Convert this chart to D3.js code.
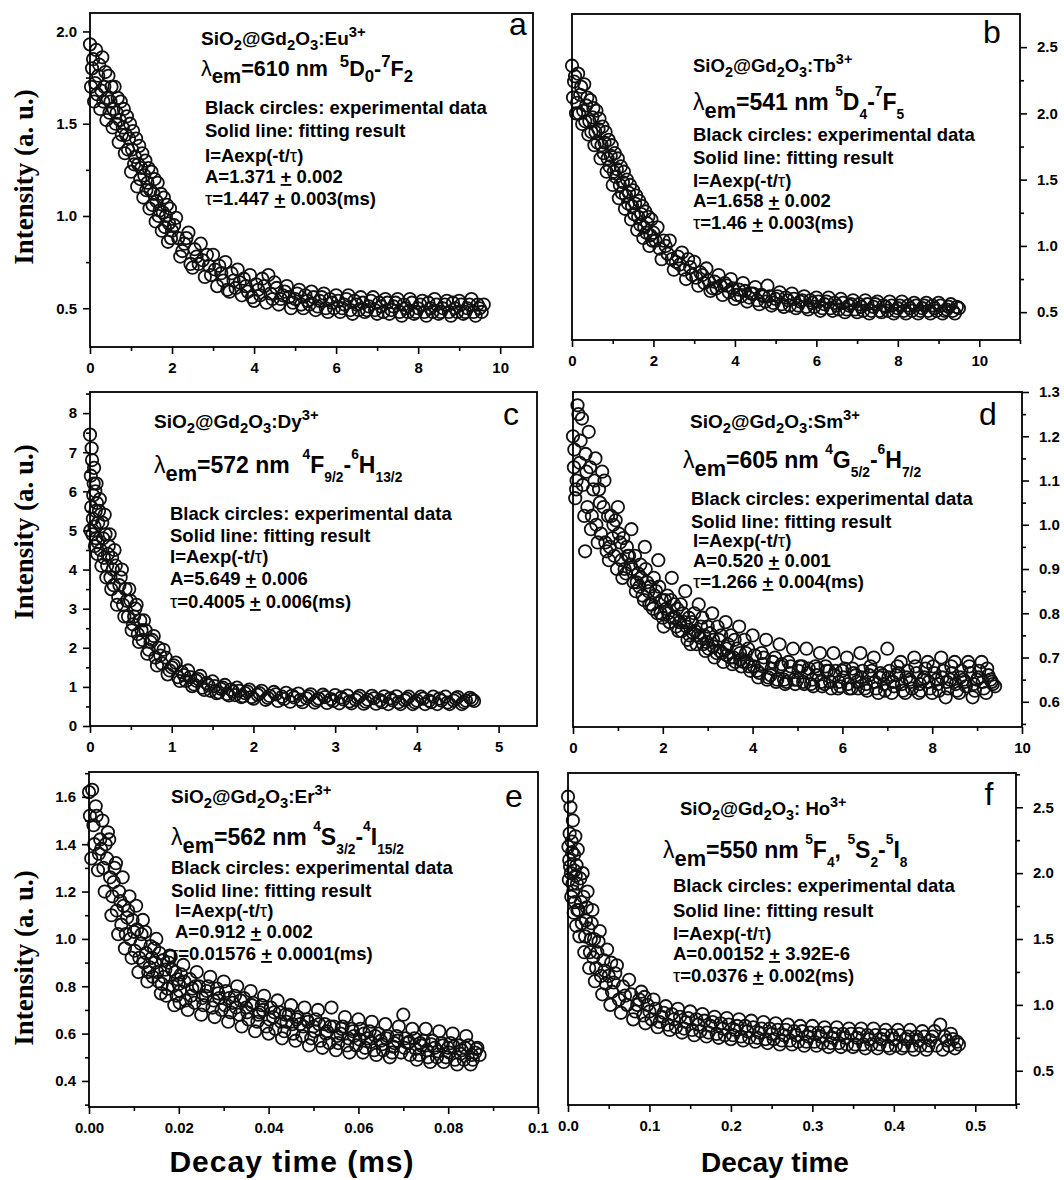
<!DOCTYPE html>
<html>
<head>
<meta charset="utf-8">
<script src="https://cdn.jsdelivr.net/npm/d3@7"></script>
<style>
  body { margin: 0; background: #fff; }
</style>
</head>
<body>
<div id="chart"></div>
<script>
// ---- data: [decay time, intensity] ----
const ptsA = [[0,1.93],[0.05,1.80],[0.1,1.62],[0.15,1.90],[0.2,1.76],[0.25,1.58],[0.3,1.86],[0.35,1.70],[0.4,1.52],[0.45,1.76],[0.5,1.62],[0.55,1.48],[0.6,1.70],[0.65,1.56],[0.7,1.40],[0.75,1.62],[0.8,1.48],[0.85,1.34],[0.9,1.54],[0.95,1.42],[1.0,1.24],[1.05,1.46],[1.1,1.32],[1.15,1.16],[1.2,1.38],[1.25,1.26],[1.3,1.10],[1.35,1.30],[1.4,1.18],[1.45,1.04],[1.5,1.24],[1.55,1.12],[1.6,0.97],[1.65,1.18],[1.7,1.03],[1.75,0.92],[1.8,1.10],[1.85,1.00],[1.9,0.86],[1.95,1.04],[2.0,0.92],[2.1,0.99],[2.15,0.88],[2.2,0.78],[2.3,0.85],[2.4,0.91],[2.45,0.74],[2.5,0.72],[2.6,0.78],[2.7,0.85],[2.75,0.76],[2.8,0.67],[2.9,0.73],[3.0,0.79],[3.05,0.71],[3.1,0.62],[3.2,0.69],[3.3,0.75],[3.35,0.60],[3.4,0.59],[3.5,0.65],[3.6,0.71],[3.65,0.64],[3.7,0.57],[3.8,0.62],[3.9,0.68],[3.95,0.56],[4.0,0.54],[4.1,0.60],[4.2,0.66],[4.3,0.53],[4.35,0.68],[4.4,0.58],[4.5,0.64],[4.6,0.52],[4.7,0.57],[4.8,0.62],[4.85,0.56],[4.9,0.50],[5.0,0.55],[5.1,0.60],[5.2,0.50],[5.3,0.54],[5.4,0.59],[5.5,0.49],[5.6,0.54],[5.7,0.58],[5.8,0.48],[5.9,0.53],[6.0,0.57],[6.1,0.48],[6.2,0.52],[6.3,0.57],[6.4,0.47],[6.5,0.52],[6.6,0.56],[6.7,0.48],[6.8,0.51],[6.9,0.56],[7.0,0.47],[7.1,0.51],[7.2,0.55],[7.3,0.47],[7.4,0.51],[7.5,0.55],[7.6,0.46],[7.7,0.50],[7.8,0.55],[7.9,0.47],[8.0,0.50],[8.1,0.54],[8.2,0.46],[8.3,0.50],[8.4,0.55],[8.5,0.47],[8.6,0.50],[8.7,0.54],[8.8,0.46],[8.9,0.50],[9.0,0.54],[9.1,0.47],[9.2,0.50],[9.3,0.55],[9.4,0.46],[9.5,0.50],[9.6,0.52]];
const ptsA2 = [[0.025,1.70],[0.075,1.85],[0.125,1.72],[0.175,1.66],[0.225,1.82],[0.275,1.68],[0.325,1.62],[0.375,1.78],[0.425,1.64],[0.475,1.56],[0.525,1.70],[0.575,1.58],[0.625,1.50],[0.675,1.64],[0.725,1.52],[0.775,1.44],[0.825,1.58],[0.875,1.44],[0.925,1.36],[0.975,1.50],[1.025,1.36],[1.075,1.28],[1.125,1.42],[1.175,1.28],[1.225,1.20],[1.275,1.34],[1.325,1.22],[1.375,1.14],[1.425,1.26],[1.475,1.14],[1.525,1.06],[1.575,1.20],[1.625,1.08],[1.675,1.00],[1.725,1.12],[1.775,1.02],[1.825,0.94],[1.875,1.06],[1.925,0.96],[1.975,0.88],[2.05,0.95],[2.25,0.81],[2.35,0.88],[2.55,0.82],[2.65,0.74],[2.85,0.79],[2.95,0.68],[3.15,0.73],[3.25,0.65],[3.45,0.69],[3.55,0.61],[3.75,0.66],[3.85,0.59],[4.05,0.63],[4.15,0.57],[4.25,0.62],[4.45,0.55],[4.55,0.61],[4.65,0.55],[4.75,0.59],[4.95,0.53],[5.05,0.58],[5.15,0.52],[5.25,0.57],[5.35,0.52],[5.45,0.56],[5.55,0.51],[5.65,0.56],[5.75,0.50],[5.85,0.55],[5.95,0.50],[6.05,0.54],[6.15,0.50],[6.25,0.55],[6.35,0.49],[6.45,0.54],[6.55,0.49],[6.65,0.53],[6.75,0.49],[6.85,0.54],[6.95,0.49],[7.05,0.53],[7.15,0.48],[7.25,0.53],[7.35,0.49],[7.45,0.53],[7.55,0.48],[7.65,0.52],[7.75,0.48],[7.85,0.53],[7.95,0.48],[8.05,0.52],[8.15,0.48],[8.25,0.53],[8.35,0.48],[8.45,0.52],[8.55,0.48],[8.65,0.52],[8.75,0.48],[8.85,0.53],[8.95,0.48],[9.05,0.52],[9.15,0.48],[9.25,0.52],[9.35,0.48],[9.45,0.52],[9.55,0.48]];

const ptsB = [[0,2.36],[0.05,2.24],[0.1,2.0],[0.15,2.3],[0.2,2.14],[0.25,1.92],[0.3,2.22],[0.35,2.06],[0.4,1.84],[0.45,2.1],[0.5,1.97],[0.55,1.76],[0.6,2.02],[0.65,1.88],[0.7,1.66],[0.75,1.9],[0.8,1.78],[0.85,1.56],[0.9,1.8],[0.95,1.68],[1.0,1.46],[1.05,1.7],[1.1,1.58],[1.15,1.36],[1.2,1.6],[1.25,1.48],[1.3,1.28],[1.35,1.5],[1.4,1.40],[1.45,1.2],[1.5,1.42],[1.55,1.32],[1.6,1.12],[1.65,1.34],[1.7,1.24],[1.75,1.06],[1.8,1.26],[1.85,1.17],[1.9,1.0],[1.95,1.2],[2.0,1.10],[2.1,1.14],[2.2,0.90],[2.25,1.04],[2.3,1.0],[2.4,1.04],[2.5,0.82],[2.55,0.88],[2.6,0.92],[2.7,0.95],[2.8,0.75],[2.85,0.9],[2.9,0.84],[3.0,0.88],[3.1,0.70],[3.15,0.8],[3.2,0.78],[3.3,0.83],[3.4,0.66],[3.45,0.68],[3.5,0.73],[3.6,0.78],[3.7,0.63],[3.75,0.72],[3.8,0.70],[3.9,0.75],[4.0,0.60],[4.05,0.63],[4.1,0.67],[4.2,0.72],[4.3,0.58],[4.4,0.64],[4.5,0.69],[4.6,0.56],[4.7,0.62],[4.8,0.70],[4.9,0.55],[5.0,0.60],[5.1,0.65],[5.2,0.54],[5.3,0.59],[5.4,0.64],[5.5,0.53],[5.6,0.58],[5.7,0.62],[5.8,0.52],[5.9,0.57],[6.0,0.61],[6.1,0.51],[6.2,0.56],[6.3,0.61],[6.4,0.51],[6.5,0.55],[6.6,0.60],[6.7,0.50],[6.8,0.55],[6.9,0.59],[7.0,0.50],[7.1,0.54],[7.2,0.59],[7.3,0.49],[7.4,0.54],[7.5,0.58],[7.6,0.50],[7.7,0.54],[7.8,0.58],[7.9,0.49],[8.0,0.53],[8.1,0.58],[8.2,0.49],[8.3,0.53],[8.4,0.57],[8.5,0.49],[8.6,0.53],[8.7,0.57],[8.8,0.49],[8.9,0.53],[9.0,0.57],[9.1,0.49],[9.2,0.52],[9.3,0.56],[9.4,0.49],[9.5,0.53]];
const ptsB2 = [[0.025,2.12],[0.075,2.28],[0.125,2.08],[0.175,2.0],[0.225,2.2],[0.275,2.02],[0.325,1.94],[0.375,2.12],[0.425,1.94],[0.475,1.86],[0.525,2.04],[0.575,1.86],[0.625,1.78],[0.675,1.96],[0.725,1.76],[0.775,1.70],[0.825,1.86],[0.875,1.66],[0.925,1.60],[0.975,1.76],[1.025,1.56],[1.075,1.52],[1.125,1.66],[1.175,1.46],[1.225,1.40],[1.275,1.56],[1.325,1.38],[1.375,1.32],[1.425,1.46],[1.475,1.30],[1.525,1.24],[1.575,1.38],[1.625,1.22],[1.675,1.16],[1.725,1.30],[1.775,1.14],[1.825,1.10],[1.875,1.22],[1.925,1.08],[1.975,1.04],[2.05,1.04],[2.15,0.98],[2.35,0.94],[2.45,0.90],[2.65,0.86],[2.75,0.82],[2.95,0.78],[3.05,0.76],[3.25,0.72],[3.35,0.74],[3.55,0.68],[3.65,0.70],[3.85,0.65],[3.95,0.68],[4.15,0.62],[4.25,0.66],[4.35,0.61],[4.45,0.64],[4.55,0.59],[4.65,0.63],[4.75,0.58],[4.85,0.62],[4.95,0.57],[5.05,0.62],[5.15,0.56],[5.25,0.61],[5.35,0.55],[5.45,0.60],[5.55,0.55],[5.65,0.59],[5.75,0.54],[5.85,0.59],[5.95,0.54],[6.05,0.58],[6.15,0.53],[6.25,0.58],[6.35,0.53],[6.45,0.57],[6.55,0.52],[6.65,0.57],[6.75,0.52],[6.85,0.56],[6.95,0.52],[7.05,0.56],[7.15,0.51],[7.25,0.56],[7.35,0.51],[7.45,0.56],[7.55,0.51],[7.65,0.55],[7.75,0.51],[7.85,0.55],[7.95,0.51],[8.05,0.55],[8.15,0.51],[8.25,0.55],[8.35,0.51],[8.45,0.55],[8.55,0.51],[8.65,0.55],[8.75,0.51],[8.85,0.55],[8.95,0.51],[9.05,0.55],[9.15,0.51],[9.25,0.54],[9.35,0.51],[9.45,0.54]];

const ptsC = [[0,7.45],[0.005,5.0],[0.01,6.4],[0.02,7.1],[0.03,4.9],[0.04,5.9],[0.05,6.6],[0.06,4.6],[0.07,5.5],[0.08,6.2],[0.09,4.4],[0.10,5.2],[0.12,5.8],[0.14,4.1],[0.16,4.8],[0.18,5.4],[0.20,3.8],[0.22,4.4],[0.24,4.9],[0.26,3.5],[0.28,4.0],[0.30,4.5],[0.33,3.1],[0.36,3.6],[0.39,4.0],[0.42,2.8],[0.45,3.2],[0.48,3.5],[0.51,2.45],[0.54,2.8],[0.57,3.1],[0.60,2.15],[0.63,2.45],[0.66,2.7],[0.70,1.85],[0.74,2.15],[0.78,2.3],[0.82,1.55],[0.86,1.8],[0.90,1.95],[0.95,1.32],[1.00,1.5],[1.05,1.62],[1.10,1.15],[1.15,1.3],[1.20,1.42],[1.25,1.02],[1.30,1.16],[1.35,1.28],[1.40,0.92],[1.45,1.04],[1.50,1.14],[1.55,0.84],[1.60,0.95],[1.65,1.05],[1.70,0.78],[1.75,0.88],[1.80,0.98],[1.85,0.74],[1.90,0.84],[1.95,0.93],[2.00,0.70],[2.05,0.80],[2.10,0.90],[2.15,0.67],[2.20,0.77],[2.25,0.87],[2.30,0.64],[2.35,0.75],[2.40,0.85],[2.45,0.62],[2.50,0.73],[2.55,0.83],[2.60,0.61],[2.65,0.71],[2.70,0.81],[2.75,0.60],[2.80,0.70],[2.85,0.80],[2.90,0.59],[2.95,0.69],[3.00,0.79],[3.05,0.58],[3.10,0.68],[3.15,0.78],[3.20,0.58],[3.25,0.67],[3.30,0.77],[3.35,0.57],[3.40,0.67],[3.45,0.77],[3.50,0.57],[3.55,0.66],[3.60,0.76],[3.65,0.56],[3.70,0.66],[3.75,0.76],[3.80,0.56],[3.85,0.66],[3.90,0.75],[3.95,0.56],[4.00,0.65],[4.05,0.75],[4.10,0.56],[4.15,0.65],[4.20,0.75],[4.25,0.56],[4.30,0.65],[4.35,0.75],[4.40,0.56],[4.45,0.65],[4.50,0.74],[4.55,0.56],[4.60,0.65],[4.65,0.72],[4.70,0.64]];
const ptsC2 = [[0.015,5.6],[0.025,6.8],[0.035,5.3],[0.045,6.2],[0.055,5.1],[0.065,6.0],[0.075,4.8],[0.085,5.7],[0.095,4.7],[0.11,5.5],[0.13,4.5],[0.15,5.2],[0.17,4.3],[0.19,4.9],[0.21,4.1],[0.23,4.6],[0.25,3.8],[0.27,4.3],[0.29,3.6],[0.315,4.1],[0.345,3.3],[0.375,3.8],[0.405,3.1],[0.435,3.5],[0.465,2.8],[0.495,3.2],[0.525,2.6],[0.555,3.0],[0.585,2.35],[0.615,2.7],[0.645,2.2],[0.68,2.45],[0.72,1.95],[0.76,2.2],[0.80,1.75],[0.84,2.0],[0.88,1.6],[0.925,1.75],[0.975,1.42],[1.025,1.55],[1.075,1.25],[1.125,1.38],[1.175,1.15],[1.225,1.25],[1.275,1.06],[1.325,1.2],[1.375,0.98],[1.425,1.1],[1.475,0.9],[1.525,1.02],[1.575,0.86],[1.625,0.98],[1.675,0.82],[1.725,0.93],[1.775,0.79],[1.825,0.9],[1.875,0.76],[1.925,0.88],[1.975,0.74],[2.075,0.84],[2.175,0.72],[2.275,0.81],[2.375,0.69],[2.475,0.78],[2.575,0.67],[2.675,0.76],[2.775,0.66],[2.875,0.74],[2.975,0.64],[3.075,0.73],[3.175,0.63],[3.275,0.72],[3.375,0.62],[3.475,0.71],[3.575,0.61],[3.675,0.71],[3.775,0.61],[3.875,0.70],[3.975,0.61],[4.075,0.70],[4.175,0.61],[4.275,0.70],[4.375,0.60],[4.475,0.70],[4.575,0.61],[4.675,0.68]];

const ptsD = [[0,1.20],[0.02,1.13],[0.05,1.06],[0.07,1.08],[0.1,1.27],[0.12,1.25],[0.15,1.14],[0.2,1.24],[0.25,1.02],[0.27,0.94],[0.3,1.12],[0.35,1.21],[0.4,0.99],[0.45,1.08],[0.5,1.15],[0.55,0.96],[0.6,1.05],[0.65,1.12],[0.7,1.10],[0.75,0.94],[0.8,0.92],[0.85,1.02],[0.9,1.0],[1.0,1.04],[1.05,0.96],[1.1,0.88],[1.15,0.90],[1.2,0.95],[1.25,0.93],[1.28,0.91],[1.3,0.99],[1.35,0.87],[1.4,0.85],[1.45,0.89],[1.5,0.91],[1.55,0.84],[1.6,0.95],[1.65,0.87],[1.7,0.82],[1.75,0.82],[1.8,0.88],[1.85,0.85],[1.9,0.92],[1.95,0.80],[2.0,0.79],[2.05,0.83],[2.1,0.84],[2.15,0.78],[2.2,0.88],[2.25,0.82],[2.3,0.77],[2.35,0.76],[2.4,0.82],[2.45,0.80],[2.5,0.85],[2.55,0.74],[2.6,0.75],[2.65,0.78],[2.7,0.80],[2.75,0.73],[2.8,0.82],[2.85,0.77],[2.9,0.73],[2.95,0.715],[3.0,0.77],[3.05,0.755],[3.1,0.80],[3.15,0.70],[3.2,0.71],[3.25,0.74],[3.3,0.75],[3.35,0.69],[3.4,0.78],[3.45,0.73],[3.5,0.70],[3.55,0.685],[3.6,0.74],[3.65,0.72],[3.7,0.77],[3.75,0.68],[3.8,0.69],[3.85,0.71],[3.9,0.72],[3.95,0.67],[4.0,0.75],[4.05,0.705],[4.1,0.67],[4.15,0.665],[4.2,0.71],[4.25,0.70],[4.3,0.74],[4.35,0.655],[4.4,0.66],[4.45,0.69],[4.5,0.70],[4.55,0.65],[4.6,0.73],[4.65,0.685],[4.7,0.65],[4.75,0.645],[4.8,0.69],[4.85,0.68],[4.9,0.72],[4.95,0.64],[5.0,0.65],[5.05,0.68],[5.1,0.68],[5.15,0.64],[5.2,0.72],[5.25,0.675],[5.3,0.64],[5.35,0.635],[5.4,0.68],[5.45,0.675],[5.5,0.71],[5.55,0.635],[5.6,0.64],[5.65,0.67],[5.7,0.67],[5.75,0.63],[5.8,0.71],[5.85,0.67],[5.9,0.63],[5.95,0.635],[6.0,0.67],[6.05,0.675],[6.1,0.70],[6.15,0.63],[6.2,0.63],[6.25,0.665],[6.3,0.66],[6.35,0.63],[6.4,0.71],[6.45,0.67],[6.5,0.63],[6.55,0.625],[6.6,0.66],[6.65,0.67],[6.7,0.70],[6.75,0.63],[6.8,0.62],[6.85,0.665],[6.9,0.66],[6.95,0.625],[7.0,0.72],[7.05,0.67],[7.1,0.62],[7.15,0.635],[7.2,0.66],[7.25,0.665],[7.3,0.69],[7.35,0.625],[7.4,0.62],[7.45,0.67],[7.5,0.65],[7.55,0.63],[7.6,0.70],[7.65,0.665],[7.7,0.62],[7.75,0.625],[7.8,0.65],[7.85,0.675],[7.9,0.69],[7.95,0.63],[8.0,0.62],[8.05,0.665],[8.1,0.65],[8.15,0.625],[8.2,0.70],[8.25,0.67],[8.3,0.61],[8.35,0.63],[8.4,0.65],[8.45,0.665],[8.5,0.69],[8.55,0.625],[8.6,0.62],[8.65,0.67],[8.7,0.65],[8.75,0.635],[8.8,0.69],[8.85,0.665],[8.9,0.61],[8.95,0.625],[9.0,0.65],[9.05,0.67],[9.1,0.69],[9.15,0.63],[9.2,0.62],[9.25,0.66],[9.3,0.65],[9.35,0.64],[9.4,0.635]];
const ptsD2 = [[0.03,1.17],[0.08,1.10],[0.17,1.19],[0.22,1.09],[0.28,1.16],[0.32,1.04],[0.38,1.13],[0.42,1.02],[0.48,1.10],[0.52,1.00],[0.58,1.08],[0.62,0.98],[0.68,1.04],[0.72,0.96],[0.78,1.02],[0.82,0.95],[0.88,0.97],[0.92,0.93],[0.95,1.01],[0.98,0.90],[1.02,0.98],[1.08,0.92],[1.12,0.97],[1.18,0.89],[1.22,0.93],[1.32,0.90],[1.38,0.93],[1.42,0.87],[1.48,0.86],[1.52,0.88],[1.58,0.83],[1.62,0.90],[1.68,0.85],[1.72,0.86],[1.78,0.81],[1.82,0.84],[1.88,0.80],[1.92,0.86],[1.98,0.83],[2.02,0.77],[2.12,0.80],[2.18,0.83],[2.28,0.79],[2.32,0.81],[2.42,0.76],[2.48,0.78],[2.58,0.79],[2.62,0.73],[2.72,0.76],[2.78,0.75],[2.88,0.79],[2.92,0.75],[3.02,0.72],[3.12,0.74],[3.22,0.77],[3.32,0.71],[3.42,0.72],[3.52,0.75],[3.62,0.69],[3.72,0.71],[3.82,0.74],[3.92,0.68]];
const ptsD3 = [[2.075,0.81],[2.225,0.79],[2.375,0.78],[2.525,0.77],[2.675,0.755],[2.825,0.745],[2.975,0.735],[3.125,0.725],[3.275,0.715],[3.425,0.705],[3.575,0.70],[3.725,0.695],[3.875,0.69],[4.025,0.68],[4.125,0.655],[4.225,0.685],[4.325,0.65],[4.425,0.675],[4.525,0.645],[4.625,0.68],[4.725,0.64],[4.825,0.665],[4.925,0.65],[5.025,0.67],[5.125,0.645],[5.225,0.665],[5.325,0.65],[5.425,0.66],[5.525,0.645],[5.625,0.68],[5.725,0.645],[5.825,0.66],[5.925,0.645],[6.025,0.655],[6.125,0.64],[6.225,0.675],[6.325,0.645],[6.425,0.655],[6.525,0.64],[6.625,0.68],[6.725,0.645],[6.825,0.655],[6.925,0.64],[7.025,0.655],[7.125,0.645],[7.225,0.68],[7.325,0.64],[7.425,0.655],[7.525,0.645],[7.625,0.68],[7.725,0.64],[7.825,0.655],[7.925,0.645],[8.025,0.68],[8.125,0.64],[8.225,0.655],[8.325,0.645],[8.425,0.68],[8.525,0.64],[8.625,0.655],[8.725,0.645],[8.825,0.68],[8.925,0.64],[9.025,0.655],[9.125,0.645],[9.225,0.675],[9.325,0.645]];

const ptsE = [[0,1.62],[0.0005,1.34],[0.0007,1.63],[0.001,1.48],[0.0015,1.56],[0.002,1.29],[0.0025,1.42],[0.0027,1.38],[0.003,1.50],[0.0035,1.20],[0.004,1.34],[0.0042,1.45],[0.0045,1.42],[0.005,1.10],[0.0055,1.24],[0.006,1.32],[0.0065,1.02],[0.007,1.16],[0.0075,1.26],[0.008,0.96],[0.0085,1.09],[0.009,1.18],[0.0095,0.92],[0.010,1.03],[0.0105,1.14],[0.011,0.86],[0.0115,0.98],[0.012,1.08],[0.0125,1.03],[0.013,0.82],[0.0135,0.88],[0.014,0.92],[0.0145,0.96],[0.015,1.0],[0.0155,0.82],[0.016,0.77],[0.0165,0.91],[0.017,0.87],[0.0175,0.79],[0.018,0.93],[0.0182,0.925],[0.0185,0.87],[0.019,0.72],[0.0195,0.76],[0.020,0.81],[0.0205,0.85],[0.021,0.89],[0.0215,0.74],[0.022,0.70],[0.0225,0.83],[0.023,0.79],[0.0235,0.73],[0.024,0.86],[0.0245,0.80],[0.025,0.68],[0.0255,0.72],[0.026,0.76],[0.0265,0.80],[0.027,0.84],[0.0275,0.71],[0.028,0.67],[0.0285,0.79],[0.029,0.75],[0.0295,0.70],[0.030,0.82],[0.0305,0.78],[0.031,0.65],[0.0315,0.69],[0.032,0.73],[0.0325,0.76],[0.033,0.80],[0.0335,0.68],[0.034,0.63],[0.0345,0.75],[0.035,0.71],[0.0355,0.66],[0.036,0.78],[0.0365,0.73],[0.037,0.61],[0.0375,0.65],[0.038,0.69],[0.0385,0.72],[0.039,0.76],[0.0395,0.63],[0.040,0.60],[0.0405,0.71],[0.041,0.67],[0.0415,0.62],[0.042,0.74],[0.0425,0.69],[0.043,0.58],[0.0435,0.61],[0.044,0.65],[0.0445,0.68],[0.045,0.72],[0.0455,0.60],[0.046,0.57],[0.0465,0.67],[0.047,0.64],[0.0475,0.59],[0.048,0.71],[0.0485,0.66],[0.049,0.55],[0.0495,0.58],[0.050,0.63],[0.0505,0.66],[0.051,0.70],[0.0515,0.57],[0.052,0.54],[0.0525,0.64],[0.053,0.61],[0.0535,0.56],[0.054,0.71],[0.0545,0.63],[0.055,0.53],[0.0555,0.56],[0.056,0.60],[0.0565,0.63],[0.057,0.67],[0.0575,0.55],[0.058,0.52],[0.0585,0.62],[0.059,0.59],[0.0595,0.55],[0.060,0.66],[0.0605,0.62],[0.061,0.52],[0.0615,0.54],[0.062,0.58],[0.0625,0.61],[0.063,0.65],[0.0635,0.53],[0.064,0.51],[0.0645,0.60],[0.065,0.57],[0.0655,0.53],[0.066,0.64],[0.0665,0.59],[0.067,0.50],[0.0675,0.52],[0.068,0.56],[0.0685,0.59],[0.069,0.63],[0.0695,0.52],[0.070,0.68],[0.0705,0.58],[0.071,0.56],[0.0715,0.51],[0.072,0.62],[0.0725,0.58],[0.073,0.49],[0.0735,0.51],[0.074,0.55],[0.0745,0.57],[0.075,0.62],[0.0755,0.50],[0.076,0.48],[0.0765,0.57],[0.077,0.54],[0.0775,0.50],[0.078,0.61],[0.0785,0.56],[0.079,0.48],[0.0795,0.50],[0.080,0.54],[0.0805,0.56],[0.081,0.60],[0.0815,0.49],[0.082,0.47],[0.0825,0.55],[0.083,0.53],[0.0835,0.49],[0.084,0.59],[0.0845,0.55],[0.085,0.47],[0.0855,0.49],[0.086,0.52],[0.0865,0.54],[0.087,0.51]];
const ptsE2 = [[0.0002,1.52],[0.0012,1.40],[0.0017,1.52],[0.0022,1.36],[0.0032,1.30],[0.0037,1.40],[0.0047,1.26],[0.0052,1.18],[0.0057,1.30],[0.0062,1.12],[0.0067,1.20],[0.0072,1.06],[0.0077,1.14],[0.0082,1.02],[0.0087,1.12],[0.0092,1.00],[0.0097,1.08],[0.0102,0.95],[0.0107,1.04],[0.0112,0.92],[0.0117,1.02],[0.0122,0.90],[0.0127,0.94],[0.0132,0.86],[0.0137,0.97],[0.0142,0.84],[0.0147,0.90],[0.0152,0.86],[0.0157,0.94],[0.0162,0.81],[0.0167,0.84],[0.0172,0.76],[0.0177,0.90],[0.0187,0.80],[0.0192,0.86],[0.0197,0.83],[0.0202,0.73]];
const ptsE3 = [[0.02025,0.78],[0.02125,0.82],[0.02275,0.76],[0.02375,0.80],[0.02525,0.75],[0.02625,0.78],[0.02775,0.74],[0.02875,0.77],[0.03025,0.72],[0.03125,0.75],[0.03275,0.71],[0.03375,0.74],[0.03525,0.69],[0.03625,0.72],[0.03775,0.68],[0.03875,0.70],[0.04025,0.66],[0.04125,0.69],[0.04275,0.65],[0.04375,0.68],[0.04525,0.64],[0.04625,0.66],[0.04775,0.63],[0.04875,0.65],[0.05025,0.61],[0.05125,0.64],[0.05275,0.60],[0.05375,0.63],[0.05525,0.59],[0.05625,0.62],[0.05775,0.58],[0.05875,0.61],[0.06025,0.575],[0.06125,0.60],[0.06275,0.565],[0.06375,0.59],[0.06525,0.555],[0.06625,0.58],[0.06775,0.545],[0.06875,0.57],[0.07025,0.54],[0.07125,0.565],[0.07275,0.535],[0.07375,0.56],[0.07525,0.53],[0.07625,0.555],[0.07775,0.525],[0.07875,0.55],[0.08025,0.52],[0.08125,0.545],[0.08275,0.515],[0.08375,0.54],[0.08525,0.51],[0.08625,0.535]];

const ptsF = [[0,2.58],[0.001,1.95],[0.0015,2.1],[0.002,2.3],[0.003,2.5],[0.0035,2.0],[0.004,1.82],[0.005,2.16],[0.006,2.4],[0.0065,1.86],[0.007,1.70],[0.008,2.02],[0.009,2.28],[0.010,1.60],[0.011,1.92],[0.012,2.18],[0.013,1.72],[0.014,1.52],[0.016,1.78],[0.018,2.0],[0.020,1.40],[0.022,1.64],[0.024,1.86],[0.026,1.28],[0.028,1.50],[0.030,1.72],[0.033,1.18],[0.036,1.40],[0.039,1.56],[0.042,1.08],[0.045,1.26],[0.048,1.42],[0.052,1.0],[0.053,1.32],[0.056,1.17],[0.060,1.30],[0.065,0.94],[0.070,1.07],[0.075,1.19],[0.080,0.89],[0.085,1.0],[0.090,1.10],[0.094,1.06],[0.095,0.86],[0.100,0.95],[0.105,1.04],[0.110,0.83],[0.115,0.91],[0.120,0.99],[0.125,0.81],[0.130,0.89],[0.135,0.97],[0.140,0.79],[0.145,0.87],[0.150,0.95],[0.155,0.77],[0.160,0.85],[0.165,0.93],[0.170,0.76],[0.175,0.84],[0.180,0.91],[0.185,0.75],[0.190,0.82],[0.195,0.90],[0.200,0.74],[0.205,0.81],[0.210,0.89],[0.215,0.73],[0.220,0.80],[0.225,0.88],[0.230,0.72],[0.235,0.79],[0.240,0.87],[0.245,0.71],[0.250,0.78],[0.255,0.86],[0.260,0.70],[0.265,0.77],[0.270,0.85],[0.275,0.70],[0.280,0.77],[0.285,0.84],[0.290,0.69],[0.295,0.76],[0.300,0.84],[0.305,0.69],[0.310,0.76],[0.315,0.83],[0.320,0.68],[0.325,0.75],[0.330,0.83],[0.335,0.68],[0.340,0.75],[0.345,0.82],[0.350,0.68],[0.355,0.75],[0.360,0.82],[0.365,0.67],[0.370,0.74],[0.375,0.82],[0.380,0.67],[0.385,0.74],[0.390,0.81],[0.395,0.67],[0.400,0.74],[0.405,0.81],[0.410,0.67],[0.415,0.74],[0.420,0.81],[0.425,0.66],[0.430,0.73],[0.435,0.80],[0.440,0.66],[0.445,0.73],[0.450,0.80],[0.457,0.85],[0.460,0.66],[0.465,0.73],[0.470,0.78],[0.475,0.67],[0.480,0.70]];
const ptsF2 = [[0.0005,2.2],[0.0025,2.05],[0.0045,2.24],[0.0055,1.92],[0.0075,2.14],[0.0085,1.78],[0.0095,1.98],[0.0105,2.06],[0.0115,1.72],[0.015,1.96],[0.017,1.62],[0.019,1.82],[0.021,1.52],[0.023,1.74],[0.025,1.58],[0.027,1.40],[0.029,1.62],[0.031,1.36],[0.032,1.50],[0.0345,1.28],[0.0375,1.48],[0.0405,1.22],[0.0435,1.34],[0.0465,1.16],[0.050,1.22],[0.054,1.10],[0.058,1.24],[0.0625,1.04],[0.0675,1.14],[0.0725,1.00],[0.0775,1.08],[0.0825,0.95],[0.0875,1.04],[0.0925,0.92],[0.0975,1.0],[0.1025,0.89],[0.1075,0.97],[0.1125,0.87],[0.1175,0.94],[0.1225,0.85],[0.1275,0.93],[0.1325,0.83],[0.1375,0.91],[0.1425,0.82],[0.1475,0.90],[0.1525,0.81],[0.1575,0.89],[0.1625,0.80],[0.1675,0.88],[0.1725,0.79],[0.1775,0.87],[0.1825,0.78],[0.1875,0.86],[0.1925,0.77],[0.1975,0.85],[0.2025,0.77],[0.2075,0.84],[0.2125,0.76],[0.2175,0.84],[0.2225,0.75],[0.2275,0.83],[0.2325,0.75],[0.2375,0.82],[0.2425,0.74],[0.2475,0.82],[0.2525,0.74],[0.2575,0.81],[0.2625,0.73],[0.2675,0.81],[0.2725,0.73],[0.2775,0.80],[0.2825,0.72],[0.2875,0.80],[0.2925,0.72],[0.2975,0.79],[0.3025,0.72],[0.3075,0.79],[0.3125,0.71],[0.3175,0.79],[0.3225,0.71],[0.3275,0.78],[0.3325,0.71],[0.3375,0.78],[0.3425,0.70],[0.3475,0.78],[0.3525,0.70],[0.3575,0.78],[0.3625,0.70],[0.3675,0.77],[0.3725,0.70],[0.3775,0.77],[0.3825,0.70],[0.3875,0.77],[0.3925,0.69],[0.3975,0.77],[0.4025,0.69],[0.4075,0.77],[0.4125,0.69],[0.4175,0.76],[0.4225,0.69],[0.4275,0.76],[0.4325,0.69],[0.4375,0.76],[0.4425,0.69],[0.4475,0.76],[0.4525,0.69],[0.4625,0.76],[0.4675,0.69],[0.4725,0.74],[0.4775,0.72]];

// ---- ticks ----
const ticksAX = [0, 2, 4, 6, 8, 10], labelsAX = ["0", "2", "4", "6", "8", "10"], minorAX = [1, 3, 5, 7, 9];
const ticksAY = [0.5, 1.0, 1.5, 2.0], labelsAY = ["0.5", "1.0", "1.5", "2.0"], minorAY = [0.75, 1.25, 1.75];
const ticksBX = [0, 2, 4, 6, 8, 10], labelsBX = ["0", "2", "4", "6", "8", "10"], minorBX = [1, 3, 5, 7, 9, 11];
const ticksBY = [0.5, 1.0, 1.5, 2.0, 2.5], labelsBY = ["0.5", "1.0", "1.5", "2.0", "2.5"], minorBY = [0.75, 1.25, 1.75, 2.25];
const ticksCX = [0, 1, 2, 3, 4, 5], labelsCX = ["0", "1", "2", "3", "4", "5"], minorCX = [0.5, 1.5, 2.5, 3.5, 4.5];
const ticksCY = [0, 1, 2, 3, 4, 5, 6, 7, 8], labelsCY = ["0", "1", "2", "3", "4", "5", "6", "7", "8"], minorCY = [0.5, 1.5, 2.5, 3.5, 4.5, 5.5, 6.5, 7.5, 8.5];
const ticksDX = [0, 2, 4, 6, 8, 10], labelsDX = ["0", "2", "4", "6", "8", "10"], minorDX = [1, 3, 5, 7, 9];
const ticksDY = [0.6, 0.7, 0.8, 0.9, 1.0, 1.1, 1.2, 1.3], labelsDY = ["0.6", "0.7", "0.8", "0.9", "1.0", "1.1", "1.2", "1.3"], minorDY = [0.55, 0.65, 0.75, 0.85, 0.95, 1.05, 1.15, 1.25];
const ticksEX = [0, 0.02, 0.04, 0.06, 0.08, 0.1], labelsEX = ["0.00", "0.02", "0.04", "0.06", "0.08", "0.1"], minorEX = [0.01, 0.03, 0.05, 0.07, 0.09];
const ticksEY = [0.4, 0.6, 0.8, 1.0, 1.2, 1.4, 1.6], labelsEY = ["0.4", "0.6", "0.8", "1.0", "1.2", "1.4", "1.6"], minorEY = [0.3, 0.5, 0.7, 0.9, 1.1, 1.3, 1.5, 1.7];
const ticksFX = [0, 0.1, 0.2, 0.3, 0.4, 0.5], labelsFX = ["0.0", "0.1", "0.2", "0.3", "0.4", "0.5"], minorFX = [0.05, 0.15, 0.25, 0.35, 0.45, 0.55];
const ticksFY = [0.5, 1.0, 1.5, 2.0, 2.5], labelsFY = ["0.5", "1.0", "1.5", "2.0", "2.5"], minorFY = [0.25, 0.75, 1.25, 1.75, 2.25, 2.75];

const FONT = "'Liberation Sans', Arial, Helvetica, sans-serif";
const SERIF = "'Liberation Serif', 'Times New Roman', serif";

// [font scale, baseline shift in em]
const SHIFT = { "": [1, 0], "_": [0.78, 0.26], "^": [0.78, -0.42], "s_": [0.6, 0.4], "s^": [0.6, -0.6], "em": [0.95, 0.33], "g": [1, 0], "u": [1, 0] };
const TXT = 18.5;

const panels = [
  { id: "a", pts: [ptsA, ptsA2], left: 90, right: 533, top: 13, bottom: 347, xDom: [0, 10.8], yDom: [0.29, 2.10], side: "left",
    xt: ticksAX, xl: labelsAX, xm: minorAX, yt: ticksAY, yl: labelsAY, ym: minorAY, letter: [518, 35],
    lines: [
      [201, 45, 19, [["SiO"], ["2", "_"], ["@Gd"], ["2", "_"], ["O"], ["3", "_"], [":Eu"], ["3+", "^"]]],
      [201, 76, 21.5, [["λ", "g"], ["em", "em"], ["=610 nm  "], ["5", "^"], ["D"], ["0", "_"], ["-"], ["7", "^"], ["F"], ["2", "_"]]],
      [205, 114, TXT, [["Black circles: experimental data"]]],
      [205, 137, TXT, [["Solid line: fitting result"]]],
      [205, 162, TXT, [["I=Aexp(-t/"], ["τ", "g"], [")"]]],
      [205, 183, TXT, [["A=1.371 "], ["+", "u"], [" 0.002"]]],
      [205, 205, TXT, [["τ", "g"], ["=1.447 "], ["+", "u"], [" 0.003(ms)"]]]
    ] },
  { id: "b", pts: [ptsB, ptsB2], left: 572, right: 1020, top: 14, bottom: 340, xDom: [0, 11], yDom: [0.29, 2.75], side: "right",
    xt: ticksBX, xl: labelsBX, xm: minorBX, yt: ticksBY, yl: labelsBY, ym: minorBY, letter: [992, 43],
    lines: [
      [693, 72, 18.5, [["SiO"], ["2", "_"], ["@Gd"], ["2", "_"], ["O"], ["3", "_"], [":Tb"], ["3+", "^"]]],
      [693, 110, 23, [["λ", "g"], ["em", "em"], ["=541 nm "], ["5", "s^"], ["D"], ["4", "s_"], ["-"], ["7", "s^"], ["F"], ["5", "s_"]]],
      [693, 141, TXT, [["Black circles: experimental data"]]],
      [693, 164, TXT, [["Solid line: fitting result"]]],
      [693, 187, TXT, [["I=Aexp(-t/"], ["τ", "g"], [")"]]],
      [693, 207, TXT, [["A=1.658 "], ["+", "u"], [" 0.002"]]],
      [693, 229, TXT, [["τ", "g"], ["=1.46 "], ["+", "u"], [" 0.003(ms)"]]]
    ] },
  { id: "c", pts: [ptsC, ptsC2], left: 90, right: 537, top: 392, bottom: 726, xDom: [0, 5.47], yDom: [0, 8.54], side: "left",
    xt: ticksCX, xl: labelsCX, xm: minorCX, yt: ticksCY, yl: labelsCY, ym: minorCY, letter: [511, 425],
    lines: [
      [154, 428, 19, [["SiO"], ["2", "_"], ["@Gd"], ["2", "_"], ["O"], ["3", "_"], [":Dy"], ["3+", "^"]]],
      [154, 473, 23, [["λ", "g"], ["em", "em"], ["=572 nm  "], ["4", "s^"], ["F"], ["9/2", "s_"], ["-"], ["6", "s^"], ["H"], ["13/2", "s_"]]],
      [170, 520, TXT, [["Black circles: experimental data"]]],
      [170, 542, TXT, [["Solid line: fitting result"]]],
      [170, 563, TXT, [["I=Aexp(-t/"], ["τ", "g"], [")"]]],
      [170, 585, TXT, [["A=5.649 "], ["+", "u"], [" 0.006"]]],
      [170, 608, TXT, [["τ", "g"], ["=0.4005 "], ["+", "u"], [" 0.006(ms)"]]]
    ] },
  { id: "d", pts: [ptsD, ptsD2, ptsD3], left: 573, right: 1022, top: 392, bottom: 727, xDom: [0, 10], yDom: [0.543, 1.30], side: "right",
    xt: ticksDX, xl: labelsDX, xm: minorDX, yt: ticksDY, yl: labelsDY, ym: minorDY, letter: [988, 425],
    lines: [
      [690, 428, 19, [["SiO"], ["2", "_"], ["@Gd"], ["2", "_"], ["O"], ["3", "_"], [":Sm"], ["3+", "^"]]],
      [683, 468, 23, [["λ", "g"], ["em", "em"], ["=605 nm "], ["4", "s^"], ["G"], ["5/2", "s_"], ["-"], ["6", "s^"], ["H"], ["7/2", "s_"]]],
      [691, 505, TXT, [["Black circles: experimental data"]]],
      [691, 528, TXT, [["Solid line: fitting result"]]],
      [693, 547, TXT, [["I=Aexp(-t/"], ["τ", "g"], [")"]]],
      [693, 567, TXT, [["A=0.520 "], ["+", "u"], [" 0.001"]]],
      [693, 588, TXT, [["τ", "g"], ["=1.266 "], ["+", "u"], [" 0.004(ms)"]]]
    ] },
  { id: "e", pts: [ptsE, ptsE2, ptsE3], left: 89, right: 538, top: 772, bottom: 1107, xDom: [0, 0.1], yDom: [0.29, 1.705], side: "left",
    xt: ticksEX, xl: labelsEX, xm: minorEX, yt: ticksEY, yl: labelsEY, ym: minorEY, letter: [514, 807],
    lines: [
      [171, 803, 19, [["SiO"], ["2", "_"], ["@Gd"], ["2", "_"], ["O"], ["3", "_"], [":Er"], ["3+", "^"]]],
      [171, 845, 23, [["λ", "g"], ["em", "em"], ["=562 nm "], ["4", "s^"], ["S"], ["3/2", "s_"], ["-"], ["4", "s^"], ["I"], ["15/2", "s_"]]],
      [171, 874, TXT, [["Black circles: experimental data"]]],
      [171, 897, TXT, [["Solid line: fitting result"]]],
      [175, 917, TXT, [["I=Aexp(-t/"], ["τ", "g"], [")"]]],
      [175, 938, TXT, [["A=0.912 "], ["+", "u"], [" 0.002"]]],
      [171, 960, TXT, [["τ", "g"], ["=0.01576 "], ["+", "u"], [" 0.0001(ms)"]]]
    ] },
  { id: "f", pts: [ptsF, ptsF2], left: 568, right: 1016, top: 773, bottom: 1105, xDom: [0, 0.55], yDom: [0.24, 2.76], side: "right",
    xt: ticksFX, xl: labelsFX, xm: minorFX, yt: ticksFY, yl: labelsFY, ym: minorFY, letter: [989, 805],
    lines: [
      [680, 815, 18.5, [["SiO"], ["2", "_"], ["@Gd"], ["2", "_"], ["O"], ["3", "_"], [": Ho"], ["3+", "^"]]],
      [663, 858, 23, [["λ", "g"], ["em", "em"], ["=550 nm "], ["5", "s^"], ["F"], ["4", "s_"], [", "], ["5", "s^"], ["S"], ["2", "s_"], ["-"], ["5", "s^"], ["I"], ["8", "s_"]]],
      [673, 892, TXT, [["Black circles: experimental data"]]],
      [673, 917, TXT, [["Solid line: fitting result"]]],
      [673, 940, TXT, [["I=Aexp(-t/"], ["τ", "g"], [")"]]],
      [673, 960, TXT, [["A=0.00152 "], ["+", "u"], [" 3.92E-6"]]],
      [673, 982, TXT, [["τ", "g"], ["=0.0376 "], ["+", "u"], [" 0.002(ms)"]]]
    ] }
];

const svg = d3.select("#chart").append("svg")
  .attr("width", 1064)
  .attr("height", 1180)
  .style("background", "#fff");

function richLine(g, x, y, size, segs) {
  const t = g.append("text")
    .attr("x", x).attr("y", y)
    .attr("font-family", FONT).attr("font-weight", "bold").attr("font-size", size)
    .attr("fill", "#000")
    .style("white-space", "pre");
  let cur = 0;
  segs.forEach(([str, k = ""]) => {
    const [sc, sh] = SHIFT[k];
    const off = sh * size;
    const ts = t.append("tspan").attr("dy", off - cur).attr("font-size", size * sc).text(str);
    cur = off;
    if (k === "g") ts.attr("font-weight", "normal");
    if (k === "u") ts.attr("text-decoration", "underline");
  });
}

function styleAxis(sel) {
  sel.select(".domain").remove();
  sel.selectAll(".tick line").attr("stroke", "#000").attr("stroke-width", 1.6);
  sel.selectAll(".tick text")
    .attr("font-family", FONT).attr("font-weight", "bold").attr("font-size", 15).attr("fill", "#000");
}

function drawPanel(p) {
  const x = d3.scaleLinear().domain(p.xDom).range([p.left, p.right]);
  const y = d3.scaleLinear().domain(p.yDom).range([p.bottom, p.top]);
  const g = svg.append("g").attr("class", "panel-" + p.id);

  // experimental points, open circles
  p.pts.forEach(series => {
    g.append("g").selectAll("circle")
      .data(series)
      .join("circle")
      .attr("cx", d => x(d[0]))
      .attr("cy", d => y(d[1]))
      .attr("r", 6.2)
      .attr("fill", "none")
      .attr("stroke", "#111")
      .attr("stroke-width", 1.8);
  });

  // frame
  g.append("rect")
    .attr("x", p.left).attr("y", p.top)
    .attr("width", p.right - p.left).attr("height", p.bottom - p.top)
    .attr("fill", "none").attr("stroke", "#000").attr("stroke-width", 1.8);

  // bottom axis
  g.append("g")
    .attr("transform", `translate(0,${p.bottom})`)
    .call(d3.axisBottom(x).tickValues(p.xt).tickFormat((d, i) => p.xl[i]).tickSize(7).tickPadding(8))
    .call(styleAxis);
  g.append("g")
    .attr("transform", `translate(0,${p.bottom})`)
    .call(d3.axisBottom(x).tickValues(p.xm).tickFormat("").tickSize(4))
    .call(styleAxis);

  // value axis
  if (p.side === "left") {
    g.append("g")
      .attr("transform", `translate(${p.left},0)`)
      .call(d3.axisLeft(y).tickValues(p.yt).tickFormat((d, i) => p.yl[i]).tickSize(7).tickPadding(6))
      .call(styleAxis);
    g.append("g")
      .attr("transform", `translate(${p.left},0)`)
      .call(d3.axisLeft(y).tickValues(p.ym).tickFormat("").tickSize(4))
      .call(styleAxis);
  } else {
    g.append("g")
      .attr("transform", `translate(${p.right},0)`)
      .call(d3.axisRight(y).tickValues(p.yt).tickFormat((d, i) => p.yl[i]).tickSize(7).tickPadding(10))
      .call(styleAxis);
    g.append("g")
      .attr("transform", `translate(${p.right},0)`)
      .call(d3.axisRight(y).tickValues(p.ym).tickFormat("").tickSize(4))
      .call(styleAxis);
  }

  // annotation block
  p.lines.forEach(([lx, ly, size, segs]) => richLine(g, lx, ly, size, segs));

  // panel letter
  g.append("text")
    .attr("x", p.letter[0]).attr("y", p.letter[1])
    .attr("text-anchor", "middle")
    .attr("font-family", FONT).attr("font-size", 32).attr("fill", "#000")
    .text(p.id);
}

panels.forEach(drawPanel);

// axis titles
[177, 532, 958].forEach(cy => {
  svg.append("text")
    .attr("transform", `translate(33,${cy}) rotate(-90)`)
    .attr("text-anchor", "middle")
    .attr("font-family", SERIF).attr("font-weight", "bold").attr("font-size", 27)
    .text("Intensity (a. u.)");
});

svg.append("text")
  .attr("x", 292).attr("y", 1172)
  .attr("text-anchor", "middle")
  .attr("font-family", FONT).attr("font-weight", "bold").attr("font-size", 30)
  .attr("letter-spacing", 1)
  .text("Decay time (ms)");

svg.append("text")
  .attr("x", 775).attr("y", 1172)
  .attr("text-anchor", "middle")
  .attr("font-family", FONT).attr("font-weight", "bold").attr("font-size", 28)
  .text("Decay time");
</script>
</body>
</html>
